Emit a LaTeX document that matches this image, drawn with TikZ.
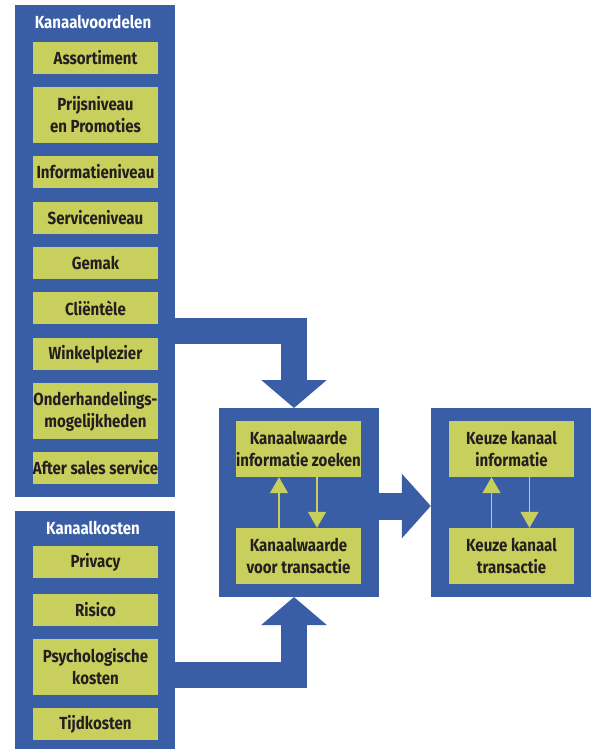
\documentclass[tikz,border=0pt]{standalone}
\usepackage{fontspec}
\setmainfont{Fira Sans}[FakeStretch=0.86]
\usetikzlibrary{arrows.meta}
\definecolor{blauw}{HTML}{3A5EA5}
\definecolor{groen}{HTML}{C9CF5C}
\definecolor{tekst}{HTML}{231F20}
\begin{document}
\begin{tikzpicture}[x=1pt, y=-1pt, font=\fontsize{17.5}{22}\selectfont\bfseries, line join=miter,
	paneel/.style={fill=blauw, inner sep=0pt, minimum width=160pt},
	vak/.style={fill=groen, text=tekst, inner sep=0pt, minimum width=125pt, minimum height=32pt, align=center},
	hoog/.style={minimum height=56pt},
	titel/.style={text=white, inner sep=0pt},
	pijl/.style={draw=blauw, line width=26pt, -{Triangle[width=64pt,length=28pt]}},
	klein/.style={draw=groen, line width=1.2pt, -{Triangle[width=18pt,length=16pt]}}]
	\useasboundingbox (0,0) rectangle (596,749);
	% panelen
	\node[paneel, minimum height=492pt] (voordelen) at (95,251) {};
	\node[paneel, minimum height=238pt] (kosten) at (95,630) {};
	\node[paneel, minimum height=189pt] (midden) at (299,502.5) {};
	\node[paneel, minimum height=189pt] (keuze) at (511,502.5) {};
	% kanaalvoordelen
	\node[titel] (tvoordelen) at (93,22) {Kanaalvoordelen};
	\node[vak] (assort) at (95.5,58) {Assortiment};
	\node[vak, hoog] (prijs) at (95.5,115) {Prijsniveau\\en Promoties};
	\node[vak] (info) at (95.5,172) {Informatieniveau};
	\node[vak] (service) at (95.5,218) {Serviceniveau};
	\node[vak] (gemak) at (95.5,263) {Gemak};
	\node[vak] (client) at (95.5,308) {Cliëntèle};
	\node[vak] (winkel) at (95.5,354) {Winkelplezier};
	\node[vak, hoog] (onder) at (95.5,411) {Onderhandelings-\\mogelijkheden};
	\node[vak] (after) at (95.5,468) {After sales service};
	% kanaalkosten
	\node[titel] (tkosten) at (93,528) {Kanaalkosten};
	\node[vak] (privacy) at (95.5,562) {Privacy};
	\node[vak] (risico) at (95.5,610) {Risico};
	\node[vak, hoog] (psych) at (95.5,667) {Psychologische\\kosten};
	\node[vak] (tijd) at (95.5,724) {Tijdkosten};
	% kanaalwaarde en keuze
	\node[vak, hoog] (kwinfo) at (298.5,449) {Kanaalwaarde\\informatie zoeken};
	\node[vak, hoog] (kwtrans) at (298.5,556) {Kanaalwaarde\\voor transactie};
	\node[vak, hoog] (kkinfo) at (511.5,449) {Keuze kanaal\\informatie};
	\node[vak, hoog] (kktrans) at (511.5,556) {Keuze kanaal\\transactie};
	% grote pijlen
	\coordinate (uitA) at (175,331);
	\coordinate (inA) at (294,408);
	\coordinate (uitB) at (175,674.5);
	\coordinate (inB) at (294,597);
	\draw[pijl] (uitA) -| (inA);
	\draw[pijl] (uitB) -| (inB);
	\draw[pijl, line width=27pt, -{Triangle[width=63pt,length=29pt]}] (midden.east |- 0,506) -- (keuze.west |- 0,506);
	% kleine pijlen
	\draw[klein] ([xshift=-19.5pt]kwtrans.north) -- ([xshift=-19.5pt]kwinfo.south);
	\draw[klein] ([xshift=18.5pt]kwinfo.south) -- ([xshift=18.5pt]kwtrans.north);
	\draw[klein] ([xshift=-20pt]kktrans.north) -- ([xshift=-20pt]kkinfo.south);
	\draw[klein] ([xshift=18pt]kkinfo.south) -- ([xshift=18pt]kktrans.north);
\end{tikzpicture}
\end{document}
